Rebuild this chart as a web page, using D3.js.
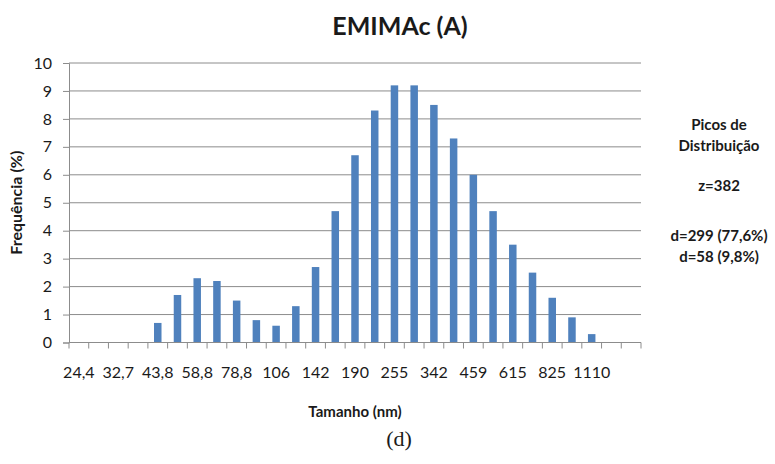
<!DOCTYPE html>
<html>
<head>
<meta charset="utf-8">
<script src="https://cdn.jsdelivr.net/npm/d3@7"></script>
<style>
  body { margin: 0; background: #fff; }
  text { font-family: Lato, "Open Sans", sans-serif; fill: #1a1a1a; }
</style>
</head>
<body>
<div id="chart"></div>
<script>
// size classes (nm), only every other label is shown on the axis
const categories = ["24,4", "28,2", "32,7", "37,8", "43,8", "50,7", "58,8", "68,1", "78,8", "91,3",
  "106", "122", "142", "164", "190", "220", "255", "295", "342", "396",
  "459", "531", "615", "712", "825", "955", "1110", "1280", "1480"];
const frequency = [0, 0, 0, 0, 0.7, 1.7, 2.3, 2.2, 1.5, 0.8,
  0.6, 1.3, 2.7, 4.7, 6.7, 8.3, 9.2, 9.2, 8.5, 7.3,
  6.0, 4.7, 3.5, 2.5, 1.6, 0.9, 0.3, 0, 0];
const shownLabels = ["24,4", "32,7", "43,8", "58,8", "78,8", "106", "142", "190", "255", "342", "459", "615", "825", "1110"];
const yTicks = [0, 1, 2, 3, 4, 5, 6, 7, 8, 9, 10];
const sideNotes = [["Picos de", 0], ["Distribuição", 21], ["z=382", 61], ["d=299 (77,6%)", 111], ["d=58 (9,8%)", 132]];

const W = 775, H = 464;
const plot = {left: 69, right: 641, top: 63, bottom: 342.5};

const svg = d3.select("#chart").append("svg")
  .attr("width", W)
  .attr("height", H);

const x = d3.scaleBand()
  .domain(categories)
  .range([plot.left, plot.right])
  .paddingInner(0.62)
  .paddingOuter(0.31);

const y = d3.scaleLinear()
  .domain([0, 10])
  .range([plot.bottom, plot.top]);

// gridlines
svg.append("g")
  .selectAll("line")
  .data(yTicks.filter(d => d > 0))
  .join("line")
  .attr("x1", plot.left)
  .attr("x2", plot.right)
  .attr("y1", d => y(d))
  .attr("y2", d => y(d))
  .attr("stroke", "#8c8c8c")
  .attr("stroke-width", 1);

// bars
svg.append("g")
  .selectAll("rect")
  .data(frequency)
  .join("rect")
  .attr("x", (d, i) => x(categories[i]))
  .attr("width", x.bandwidth())
  .attr("y", d => y(d))
  .attr("height", d => y(0) - y(d))
  .attr("fill", "#4f81bd");

// y axis
const yAxis = svg.append("g")
  .attr("transform", `translate(${plot.left},0)`)
  .call(d3.axisLeft(y).tickValues(yTicks).tickSize(6).tickPadding(11).tickFormat(d3.format("d")));
yAxis.select(".domain").attr("stroke", "#8c8c8c");
yAxis.selectAll(".tick line").attr("stroke", "#8c8c8c");
yAxis.selectAll("text").style("font-size", "16px").attr("fill", "#1a1a1a");

// x axis: tick marks on the category boundaries
const step = x.step();
const xAxisG = svg.append("g")
  .attr("transform", `translate(0,${plot.bottom})`);
xAxisG.append("line")
  .attr("x1", plot.left).attr("x2", plot.right)
  .attr("stroke", "#8c8c8c");
xAxisG.selectAll("line.tk")
  .data(d3.range(categories.length + 1))
  .join("line")
  .attr("class", "tk")
  .attr("x1", i => plot.left + i * step)
  .attr("x2", i => plot.left + i * step)
  .attr("y1", 0).attr("y2", 6)
  .attr("stroke", "#8c8c8c");
xAxisG.selectAll("text")
  .data(shownLabels)
  .join("text")
  .attr("x", d => x(d) + x.bandwidth() / 2)
  .attr("y", 35)
  .attr("text-anchor", "middle")
  .style("font-size", "16px")
  .text(d => d);

// titles
svg.append("text")
  .attr("x", 400).attr("y", 35)
  .attr("text-anchor", "middle")
  .style("font-size", "25px").style("font-weight", "bold")
  .text("EMIMAc (A)");

svg.append("text")
  .attr("transform", `translate(22,${(plot.top + plot.bottom) / 2}) rotate(-90)`)
  .attr("text-anchor", "middle")
  .style("font-size", "16px").style("font-weight", "bold")
  .text("Frequência (%)");

svg.append("text")
  .attr("x", 355).attr("y", 417)
  .attr("text-anchor", "middle")
  .style("font-size", "15px").style("font-weight", "bold")
  .text("Tamanho (nm)");

svg.append("text")
  .attr("x", 399).attr("y", 446)
  .attr("text-anchor", "middle")
  .style("font-family", "'Liberation Serif', 'DejaVu Serif', serif")
  .style("font-size", "22px")
  .text("(d)");

// peak notes on the right
svg.append("g")
  .selectAll("text")
  .data(sideNotes)
  .join("text")
  .attr("x", 719)
  .attr("y", d => 130 + d[1])
  .attr("text-anchor", "middle")
  .style("font-size", "15px").style("font-weight", "bold")
  .text(d => d[0]);
</script>
</body>
</html>
